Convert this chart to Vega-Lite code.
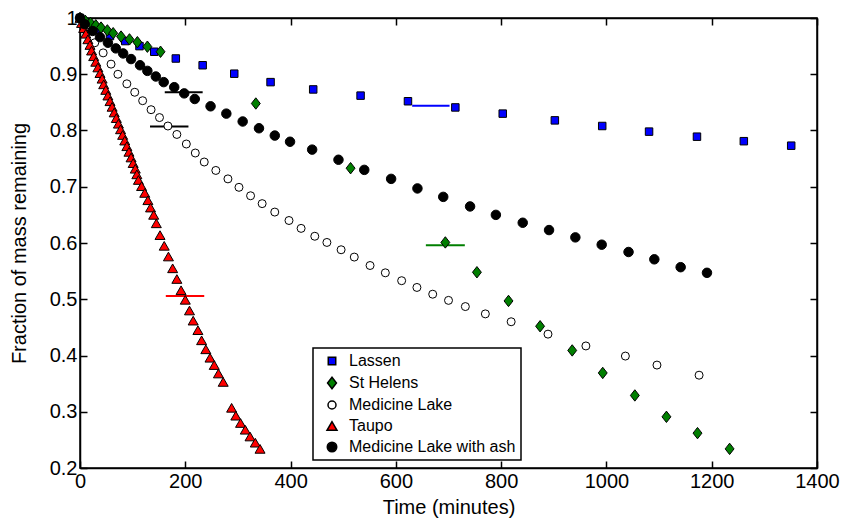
{
  "$schema": "https://vega.github.io/schema/vega-lite/v6.json",
  "width": 737,
  "height": 450,
  "autosize": {"type": "none"},
  "padding": {"left": 80, "top": 18, "right": 37, "bottom": 55},
  "background": "white",
  "config": {
    "view": {"stroke": "black", "strokeWidth": 1.5},
    "font": "Liberation Sans",
    "axis": {
      "grid": false,
      "domainColor": "black",
      "domainWidth": 1.5,
      "tickColor": "black",
      "tickWidth": 1.5,
      "tickSize": -7,
      "labelColor": "black",
      "labelFontSize": 20,
      "labelPadding": 8,
      "labelFlush": false,
      "titleColor": "black",
      "titleFontSize": 20,
      "titleFontWeight": "normal"
    },
    "legend": {
      "orient": "none",
      "legendX": 233,
      "legendY": 330,
      "padding": 5,
      "strokeColor": "black",
      "strokeWidth": 1.5,
      "fillColor": "white",
      "labelFontSize": 16,
      "labelColor": "black",
      "labelLimit": 400,
      "labelOffset": 9,
      "symbolOffset": 6,
      "rowPadding": 5
    }
  },
  "datasets": {
    "samples": [
      {"series": "Lassen", "time": 0, "fraction": 1.0},
      {"series": "Lassen", "time": 29, "fraction": 0.979},
      {"series": "Lassen", "time": 57, "fraction": 0.968},
      {"series": "Lassen", "time": 86, "fraction": 0.959},
      {"series": "Lassen", "time": 113, "fraction": 0.95},
      {"series": "Lassen", "time": 141, "fraction": 0.94},
      {"series": "Lassen", "time": 182, "fraction": 0.928},
      {"series": "Lassen", "time": 233, "fraction": 0.916},
      {"series": "Lassen", "time": 293, "fraction": 0.901},
      {"series": "Lassen", "time": 362, "fraction": 0.886},
      {"series": "Lassen", "time": 443, "fraction": 0.873},
      {"series": "Lassen", "time": 533, "fraction": 0.862},
      {"series": "Lassen", "time": 623, "fraction": 0.852},
      {"series": "Lassen", "time": 713, "fraction": 0.841},
      {"series": "Lassen", "time": 803, "fraction": 0.83},
      {"series": "Lassen", "time": 902, "fraction": 0.818},
      {"series": "Lassen", "time": 992, "fraction": 0.808},
      {"series": "Lassen", "time": 1081, "fraction": 0.798},
      {"series": "Lassen", "time": 1172, "fraction": 0.789},
      {"series": "Lassen", "time": 1261, "fraction": 0.781},
      {"series": "Lassen", "time": 1351, "fraction": 0.773},

      {"series": "St Helens", "time": 0, "fraction": 1.0},
      {"series": "St Helens", "time": 10, "fraction": 0.995},
      {"series": "St Helens", "time": 20, "fraction": 0.991},
      {"series": "St Helens", "time": 30, "fraction": 0.987},
      {"series": "St Helens", "time": 40, "fraction": 0.983},
      {"series": "St Helens", "time": 52, "fraction": 0.978},
      {"series": "St Helens", "time": 63, "fraction": 0.973},
      {"series": "St Helens", "time": 78, "fraction": 0.967},
      {"series": "St Helens", "time": 94, "fraction": 0.962},
      {"series": "St Helens", "time": 109, "fraction": 0.957},
      {"series": "St Helens", "time": 128, "fraction": 0.949},
      {"series": "St Helens", "time": 153, "fraction": 0.94},
      {"series": "St Helens", "time": 334, "fraction": 0.848},
      {"series": "St Helens", "time": 514, "fraction": 0.733},
      {"series": "St Helens", "time": 694, "fraction": 0.601},
      {"series": "St Helens", "time": 754, "fraction": 0.548},
      {"series": "St Helens", "time": 814, "fraction": 0.497},
      {"series": "St Helens", "time": 874, "fraction": 0.452},
      {"series": "St Helens", "time": 935, "fraction": 0.409},
      {"series": "St Helens", "time": 993, "fraction": 0.369},
      {"series": "St Helens", "time": 1054, "fraction": 0.329},
      {"series": "St Helens", "time": 1114, "fraction": 0.291},
      {"series": "St Helens", "time": 1173, "fraction": 0.262},
      {"series": "St Helens", "time": 1234, "fraction": 0.234},

      {"series": "Medicine Lake", "time": 0, "fraction": 1.0},
      {"series": "Medicine Lake", "time": 13, "fraction": 0.975},
      {"series": "Medicine Lake", "time": 28, "fraction": 0.956},
      {"series": "Medicine Lake", "time": 44, "fraction": 0.938},
      {"series": "Medicine Lake", "time": 59, "fraction": 0.918},
      {"series": "Medicine Lake", "time": 72, "fraction": 0.9},
      {"series": "Medicine Lake", "time": 89, "fraction": 0.883},
      {"series": "Medicine Lake", "time": 104, "fraction": 0.868},
      {"series": "Medicine Lake", "time": 119, "fraction": 0.853},
      {"series": "Medicine Lake", "time": 135, "fraction": 0.837},
      {"series": "Medicine Lake", "time": 151, "fraction": 0.823},
      {"series": "Medicine Lake", "time": 167, "fraction": 0.808},
      {"series": "Medicine Lake", "time": 184, "fraction": 0.793},
      {"series": "Medicine Lake", "time": 202, "fraction": 0.776},
      {"series": "Medicine Lake", "time": 219, "fraction": 0.76},
      {"series": "Medicine Lake", "time": 236, "fraction": 0.744},
      {"series": "Medicine Lake", "time": 258, "fraction": 0.729},
      {"series": "Medicine Lake", "time": 281, "fraction": 0.714},
      {"series": "Medicine Lake", "time": 302, "fraction": 0.699},
      {"series": "Medicine Lake", "time": 324, "fraction": 0.684},
      {"series": "Medicine Lake", "time": 346, "fraction": 0.67},
      {"series": "Medicine Lake", "time": 370, "fraction": 0.655},
      {"series": "Medicine Lake", "time": 397, "fraction": 0.64},
      {"series": "Medicine Lake", "time": 420, "fraction": 0.626},
      {"series": "Medicine Lake", "time": 446, "fraction": 0.612},
      {"series": "Medicine Lake", "time": 469, "fraction": 0.601},
      {"series": "Medicine Lake", "time": 496, "fraction": 0.588},
      {"series": "Medicine Lake", "time": 521, "fraction": 0.575},
      {"series": "Medicine Lake", "time": 551, "fraction": 0.56},
      {"series": "Medicine Lake", "time": 580, "fraction": 0.547},
      {"series": "Medicine Lake", "time": 611, "fraction": 0.533},
      {"series": "Medicine Lake", "time": 640, "fraction": 0.521},
      {"series": "Medicine Lake", "time": 670, "fraction": 0.509},
      {"series": "Medicine Lake", "time": 700, "fraction": 0.498},
      {"series": "Medicine Lake", "time": 732, "fraction": 0.487},
      {"series": "Medicine Lake", "time": 770, "fraction": 0.474},
      {"series": "Medicine Lake", "time": 819, "fraction": 0.46},
      {"series": "Medicine Lake", "time": 889, "fraction": 0.438},
      {"series": "Medicine Lake", "time": 961, "fraction": 0.417},
      {"series": "Medicine Lake", "time": 1036, "fraction": 0.399},
      {"series": "Medicine Lake", "time": 1096, "fraction": 0.383},
      {"series": "Medicine Lake", "time": 1176, "fraction": 0.365},

      {"series": "Taupo", "time": 0, "fraction": 1.0},
      {"series": "Taupo", "time": 3, "fraction": 0.991},
      {"series": "Taupo", "time": 7, "fraction": 0.982},
      {"series": "Taupo", "time": 11, "fraction": 0.972},
      {"series": "Taupo", "time": 15, "fraction": 0.962},
      {"series": "Taupo", "time": 19, "fraction": 0.952},
      {"series": "Taupo", "time": 22, "fraction": 0.942},
      {"series": "Taupo", "time": 26, "fraction": 0.932},
      {"series": "Taupo", "time": 30, "fraction": 0.922},
      {"series": "Taupo", "time": 34, "fraction": 0.912},
      {"series": "Taupo", "time": 38, "fraction": 0.902},
      {"series": "Taupo", "time": 42, "fraction": 0.892},
      {"series": "Taupo", "time": 45, "fraction": 0.882},
      {"series": "Taupo", "time": 49, "fraction": 0.872},
      {"series": "Taupo", "time": 53, "fraction": 0.862},
      {"series": "Taupo", "time": 57, "fraction": 0.852},
      {"series": "Taupo", "time": 61, "fraction": 0.842},
      {"series": "Taupo", "time": 65, "fraction": 0.832},
      {"series": "Taupo", "time": 69, "fraction": 0.822},
      {"series": "Taupo", "time": 73, "fraction": 0.812},
      {"series": "Taupo", "time": 77, "fraction": 0.802},
      {"series": "Taupo", "time": 81, "fraction": 0.792},
      {"series": "Taupo", "time": 85, "fraction": 0.782},
      {"series": "Taupo", "time": 89, "fraction": 0.772},
      {"series": "Taupo", "time": 93, "fraction": 0.762},
      {"series": "Taupo", "time": 97, "fraction": 0.752},
      {"series": "Taupo", "time": 101, "fraction": 0.742},
      {"series": "Taupo", "time": 105, "fraction": 0.732},
      {"series": "Taupo", "time": 108, "fraction": 0.722},
      {"series": "Taupo", "time": 111, "fraction": 0.712},
      {"series": "Taupo", "time": 117, "fraction": 0.701},
      {"series": "Taupo", "time": 123, "fraction": 0.689},
      {"series": "Taupo", "time": 129, "fraction": 0.676},
      {"series": "Taupo", "time": 134, "fraction": 0.663},
      {"series": "Taupo", "time": 140, "fraction": 0.65},
      {"series": "Taupo", "time": 145, "fraction": 0.635},
      {"series": "Taupo", "time": 152, "fraction": 0.614},
      {"series": "Taupo", "time": 160, "fraction": 0.595},
      {"series": "Taupo", "time": 168, "fraction": 0.576},
      {"series": "Taupo", "time": 176, "fraction": 0.555},
      {"series": "Taupo", "time": 184, "fraction": 0.536},
      {"series": "Taupo", "time": 192, "fraction": 0.516},
      {"series": "Taupo", "time": 200, "fraction": 0.499},
      {"series": "Taupo", "time": 208, "fraction": 0.48},
      {"series": "Taupo", "time": 215, "fraction": 0.462},
      {"series": "Taupo", "time": 224, "fraction": 0.445},
      {"series": "Taupo", "time": 231, "fraction": 0.427},
      {"series": "Taupo", "time": 239, "fraction": 0.411},
      {"series": "Taupo", "time": 247, "fraction": 0.396},
      {"series": "Taupo", "time": 255, "fraction": 0.383},
      {"series": "Taupo", "time": 263, "fraction": 0.368},
      {"series": "Taupo", "time": 272, "fraction": 0.353},
      {"series": "Taupo", "time": 288, "fraction": 0.307},
      {"series": "Taupo", "time": 296, "fraction": 0.293},
      {"series": "Taupo", "time": 305, "fraction": 0.28},
      {"series": "Taupo", "time": 314, "fraction": 0.268},
      {"series": "Taupo", "time": 323, "fraction": 0.256},
      {"series": "Taupo", "time": 333, "fraction": 0.245},
      {"series": "Taupo", "time": 342, "fraction": 0.234},

      {"series": "Medicine Lake with ash", "time": 0, "fraction": 1.0},
      {"series": "Medicine Lake with ash", "time": 9, "fraction": 0.989},
      {"series": "Medicine Lake with ash", "time": 24, "fraction": 0.977},
      {"series": "Medicine Lake with ash", "time": 38, "fraction": 0.966},
      {"series": "Medicine Lake with ash", "time": 53, "fraction": 0.956},
      {"series": "Medicine Lake with ash", "time": 68, "fraction": 0.946},
      {"series": "Medicine Lake with ash", "time": 82, "fraction": 0.937},
      {"series": "Medicine Lake with ash", "time": 97, "fraction": 0.927},
      {"series": "Medicine Lake with ash", "time": 114, "fraction": 0.916},
      {"series": "Medicine Lake with ash", "time": 128, "fraction": 0.906},
      {"series": "Medicine Lake with ash", "time": 144, "fraction": 0.896},
      {"series": "Medicine Lake with ash", "time": 159, "fraction": 0.886},
      {"series": "Medicine Lake with ash", "time": 179, "fraction": 0.877},
      {"series": "Medicine Lake with ash", "time": 198, "fraction": 0.866},
      {"series": "Medicine Lake with ash", "time": 218, "fraction": 0.856},
      {"series": "Medicine Lake with ash", "time": 248, "fraction": 0.843},
      {"series": "Medicine Lake with ash", "time": 278, "fraction": 0.83},
      {"series": "Medicine Lake with ash", "time": 309, "fraction": 0.816},
      {"series": "Medicine Lake with ash", "time": 340, "fraction": 0.804},
      {"series": "Medicine Lake with ash", "time": 370, "fraction": 0.791},
      {"series": "Medicine Lake with ash", "time": 399, "fraction": 0.78},
      {"series": "Medicine Lake with ash", "time": 441, "fraction": 0.766},
      {"series": "Medicine Lake with ash", "time": 491, "fraction": 0.748},
      {"series": "Medicine Lake with ash", "time": 540, "fraction": 0.73},
      {"series": "Medicine Lake with ash", "time": 591, "fraction": 0.714},
      {"series": "Medicine Lake with ash", "time": 641, "fraction": 0.697},
      {"series": "Medicine Lake with ash", "time": 690, "fraction": 0.682},
      {"series": "Medicine Lake with ash", "time": 741, "fraction": 0.665},
      {"series": "Medicine Lake with ash", "time": 790, "fraction": 0.65},
      {"series": "Medicine Lake with ash", "time": 841, "fraction": 0.636},
      {"series": "Medicine Lake with ash", "time": 891, "fraction": 0.623},
      {"series": "Medicine Lake with ash", "time": 941, "fraction": 0.61},
      {"series": "Medicine Lake with ash", "time": 991, "fraction": 0.597},
      {"series": "Medicine Lake with ash", "time": 1042, "fraction": 0.584},
      {"series": "Medicine Lake with ash", "time": 1091, "fraction": 0.571},
      {"series": "Medicine Lake with ash", "time": 1141, "fraction": 0.557},
      {"series": "Medicine Lake with ash", "time": 1191, "fraction": 0.547}
    ],
    "spreads": [
      {"series": "Lassen", "start": 631, "end": 702, "fraction": 0.844},
      {"series": "Medicine Lake with ash", "start": 161, "end": 233, "fraction": 0.868},
      {"series": "Medicine Lake", "start": 133, "end": 206, "fraction": 0.807},
      {"series": "St Helens", "start": 657, "end": 731, "fraction": 0.596},
      {"series": "Taupo", "start": 163, "end": 236, "fraction": 0.506}
    ]
  },
  "layer": [
    {
      "data": {"name": "spreads"},
      "mark": {"type": "rule", "strokeWidth": 2},
      "encoding": {
        "x": {
          "field": "start",
          "type": "quantitative",
          "scale": {"domain": [0, 1400], "nice": false, "zero": false},
          "axis": {"orient": "top", "labels": false, "title": null, "values": [0, 200, 400, 600, 800, 1000, 1200, 1400]}
        },
        "x2": {"field": "end"},
        "y": {
          "field": "fraction",
          "type": "quantitative",
          "scale": {"domain": [0.2, 1.0], "nice": false, "zero": false},
          "axis": {"orient": "right", "labels": false, "title": null, "values": [0.2, 0.3, 0.4, 0.5, 0.6, 0.7, 0.8, 0.9, 1.0]}
        },
        "stroke": {
          "field": "series",
          "type": "nominal",
          "sort": "ascending",
          "scale": {
            "range": ["#0000ff", "#000000", "#000000", "#007f00", "#ff0000"]
          },
          "legend": null
        }
      }
    },
    {
      "data": {"name": "samples"},
      "mark": {"type": "point", "filled": true, "stroke": "black", "strokeWidth": 1, "opacity": 1},
      "encoding": {
        "x": {
          "field": "time",
          "type": "quantitative",
          "scale": {"domain": [0, 1400], "nice": false, "zero": false},
          "axis": {"orient": "bottom", "title": "Time (minutes)", "format": "d", "values": [0, 200, 400, 600, 800, 1000, 1200, 1400], "titlePadding": 6, "labelPadding": 10}
        },
        "y": {
          "field": "fraction",
          "type": "quantitative",
          "scale": {"domain": [0.2, 1.0], "nice": false, "zero": false},
          "axis": {"orient": "left", "title": "Fraction of mass remaining", "format": "~g", "values": [0.2, 0.3, 0.4, 0.5, 0.6, 0.7, 0.8, 0.9, 1.0], "titlePadding": 20, "labelPadding": 10}
        },
        "shape": {
          "field": "series",
          "type": "nominal",
          "scale": {
            "domain": ["Lassen", "St Helens", "Medicine Lake", "Taupo", "Medicine Lake with ash"],
            "range": ["square", "M0,-1L0.78,0L0,1L-0.78,0Z", "circle", "triangle-up", "circle"]
          },
          "legend": {
            "title": null,
            "labelExpr": "datum.label + '\u00a0\u00a0\u00a0'",
            "encode": {"symbols": {"update": {"stroke": {"value": "black"}, "strokeWidth": {"value": 1}}}}
          }
        },
        "fill": {
          "field": "series",
          "type": "nominal",
          "scale": {
            "domain": ["Lassen", "St Helens", "Medicine Lake", "Taupo", "Medicine Lake with ash"],
            "range": ["#0000ff", "#007f00", "#ffffff", "#ff0000", "#000000"]
          },
          "legend": {
            "title": null,
            "labelExpr": "datum.label + '\u00a0\u00a0\u00a0'",
            "encode": {"symbols": {"update": {"stroke": {"value": "black"}, "strokeWidth": {"value": 1}}}}
          }
        },
        "size": {
          "field": "series",
          "type": "nominal",
          "scale": {
            "type": "ordinal",
            "domain": ["Lassen", "St Helens", "Medicine Lake", "Taupo", "Medicine Lake with ash"],
            "range": [56, 130, 64, 100, 90]
          },
          "legend": {
            "title": null,
            "labelExpr": "datum.label + '\u00a0\u00a0\u00a0'",
            "encode": {"symbols": {"update": {"stroke": {"value": "black"}, "strokeWidth": {"value": 1}}}}
          }
        }
      }
    }
  ],
  "resolve": {"axis": {"x": "independent", "y": "independent"}}
}
